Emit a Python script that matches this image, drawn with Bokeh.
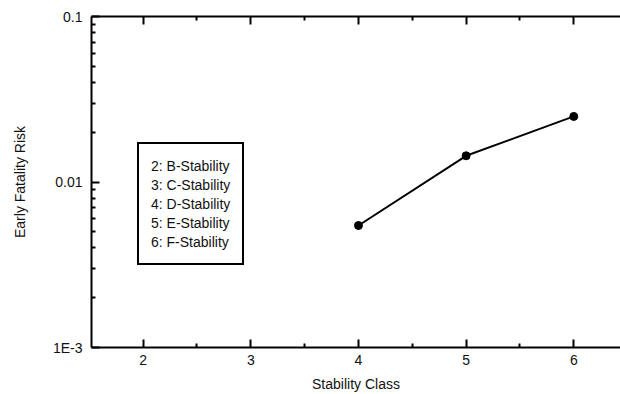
from bokeh.plotting import figure
from bokeh.models import (LinearAxis, LogAxis, FixedTicker, CustomJSTickFormatter,
                          Range1d, Legend, LegendItem)
from bokeh.embed import file_html
from bokeh.resources import INLINE

stability_class = [4, 5, 6]
fatality_risk = [0.00546, 0.0144, 0.0249]
x_ticks = [2, 3, 4, 5, 6]
x_minor = [1.5, 2.5, 3.5, 4.5, 5.5, 6.5]
y_ticks = [0.001, 0.01, 0.1]
y_tick_labels = ["1E-3", "0.01", "0.1"]
legend_labels = ["2: B-Stability", "3: C-Stability", "4: D-Stability",
                 "5: E-Stability", "6: F-Stability"]

FONT = "Liberation Sans"
FS = "14px"

p = figure(width=620, height=394, output_backend="svg", toolbar_location=None,
           y_axis_type="log", x_range=Range1d(1.52, 6.434),
           y_range=Range1d(0.001, 0.1),
           min_border_left=91, min_border_right=0, min_border_top=16,
           min_border_bottom=47, x_axis_location=None, y_axis_location=None)
p.outline_line_color = None
p.grid.visible = False
p.background_fill_color = "white"
p.border_fill_color = "white"

y_minor = []
for d in [0.001, 0.01]:
    for m in range(2, 10):
        y_minor.append(d * m)

def style(ax):
    ax.axis_line_width = 2
    ax.axis_line_color = "black"
    ax.major_tick_line_width = 2
    ax.minor_tick_line_width = 2
    ax.major_tick_in = 8
    ax.major_tick_out = 0
    ax.minor_tick_in = 4
    ax.minor_tick_out = 0
    ax.major_label_text_font = FONT
    ax.major_label_text_font_size = FS
    ax.major_label_text_color = "#111111"
    ax.axis_label_text_font = FONT
    ax.axis_label_text_font_size = FS
    ax.axis_label_text_font_style = "normal"
    ax.axis_label_text_color = "#111111"

xb = LinearAxis(ticker=FixedTicker(ticks=x_ticks, minor_ticks=x_minor),
                axis_label="Stability Class")
style(xb)
xb.major_label_standoff = 7
xb.axis_label_standoff = 8
p.add_layout(xb, "below")

xt = LinearAxis(ticker=FixedTicker(ticks=x_ticks, minor_ticks=x_minor))
style(xt)
xt.major_label_text_font_size = "0px"
xt.major_label_standoff = 0
xt.formatter = CustomJSTickFormatter(code="return '';")
p.add_layout(xt, "above")

yl = LogAxis(ticker=FixedTicker(ticks=y_ticks, minor_ticks=y_minor),
             axis_label="Early Fatality Risk")
style(yl)
yl.major_label_standoff = 9
yl.axis_label_standoff = 22
yl.formatter = CustomJSTickFormatter(
    args=dict(vals=y_ticks, labs=y_tick_labels),
    code="""
    for (let i = 0; i < vals.length; i++) {
        if (Math.abs(Math.log10(tick) - Math.log10(vals[i])) < 1e-6) return labs[i];
    }
    return '';
    """)
p.add_layout(yl, "left")

p.line(stability_class, fatality_risk, line_color="black", line_width=2)
p.scatter(stability_class, fatality_risk, marker="circle", size=8,
          fill_color="black", line_color="black")

# legend text entries (no glyphs shown)
dummy = p.line([], [], line_alpha=0)
items = [LegendItem(label=t, renderers=[dummy]) for t in legend_labels]
legend = Legend(items=items, location=(46, 82), glyph_width=0, glyph_height=19,
                label_standoff=0, label_height=19, spacing=0, padding=12,
                margin=0, border_line_color="black", border_line_alpha=1,
                border_line_width=2,
                label_text_font=FONT, label_text_font_size=FS,
                label_text_color="#111111", background_fill_alpha=1)
p.add_layout(legend, "center")

open("out.html", "w").write(file_html(p, INLINE))
